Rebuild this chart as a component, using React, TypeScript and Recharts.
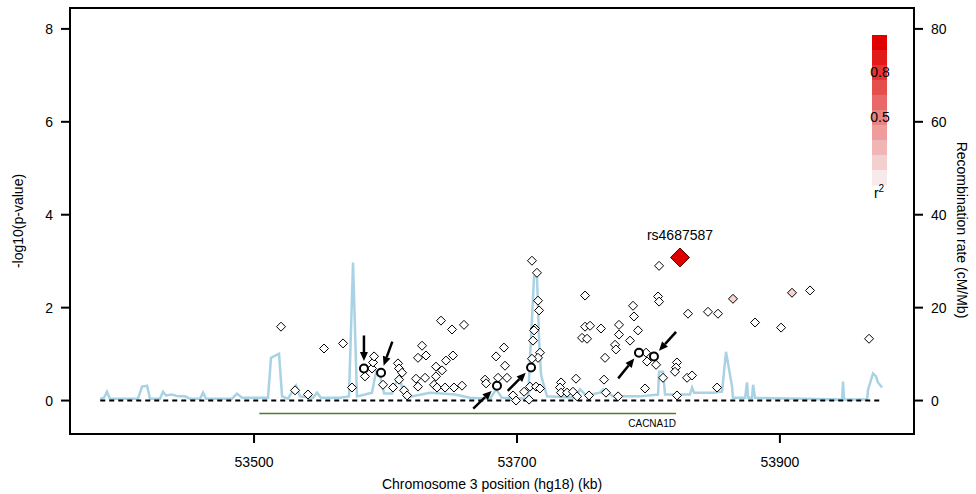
import {
  ComposedChart,
  Line,
  Scatter,
  XAxis,
  YAxis,
  ReferenceLine,
  ReferenceArea,
} from 'recharts';

// SNPs: [position (kb), -log10(p)]
const SNPS: [number, number][] = [
  [53520.5, 1.59], [53531.2, 0.22], [53541.0, 0.13], [53553.2, 1.12], [53567.7, 1.23],
  [53574.5, 0.28], [53584.4, 0.52], [53589.7, 0.69], [53590.5, 0.82], [53591.3, 0.95],
  [53598.1, 0.34], [53605.7, 0.28], [53609.5, 0.80], [53610.3, 0.69], [53612.6, 0.60],
  [53610.3, 0.45], [53614.1, 0.22], [53616.4, 0.11], [53627.8, 1.18], [53624.7, 0.92],
  [53630.8, 0.97], [53623.2, 0.47], [53630.1, 0.49], [53624.7, 0.30], [53642.2, 1.72],
  [53650.6, 1.53], [53659.7, 1.63], [53638.4, 0.73], [53646.0, 0.86], [53651.3, 0.97],
  [53643.0, 0.65], [53638.4, 0.52], [53636.9, 0.34], [53639.2, 0.28], [53645.3, 0.28],
  [53652.1, 0.28], [53658.2, 0.32], [53675.7, 0.45], [53676.5, 0.37], [53684.1, 0.95],
  [53690.1, 1.14], [53690.9, 0.75], [53692.4, 0.49], [53685.6, 0.49], [53697.0, 0.11],
  [53699.3, 0.0], [53705.4, 0.19], [53709.2, 0.02], [53709.9, 0.30], [53711.4, 3.01],
  [53715.2, 2.75], [53716.0, 2.15], [53716.8, 1.94], [53713.7, 1.55], [53713.0, 1.51],
  [53712.2, 1.29], [53717.5, 1.03], [53716.0, 0.92], [53711.4, 0.90], [53714.5, 0.30],
  [53717.5, 0.26], [53733.5, 0.39], [53732.7, 0.28], [53733.5, 0.17], [53738.1, 0.17],
  [53742.6, 0.19], [53744.9, 0.47], [53745.7, 0.09], [53751.8, 2.26], [53751.8, 1.59],
  [53755.6, 1.61], [53749.5, 1.35], [53753.3, 1.33], [53763.9, 1.55], [53767.0, 0.92],
  [53766.2, 0.45], [53767.7, 0.17], [53754.8, 0.11], [53777.6, 1.63], [53777.6, 1.42],
  [53774.6, 1.20], [53775.3, 1.10], [53776.9, 0.09], [53786.0, 1.29], [53789.0, 1.81],
  [53788.3, 2.04], [53792.1, 1.51], [53798.2, 1.03], [53798.9, 0.84], [53805.8, 0.77],
  [53808.1, 2.90], [53807.3, 2.24], [53808.1, 2.13], [53811.1, 0.49], [53797.4, 0.26],
  [53821.7, 0.82], [53821.0, 0.71], [53820.2, 0.62], [53821.7, 0.11], [53829.4, 0.49],
  [53833.2, 0.54], [53830.1, 1.87], [53845.3, 1.91], [53852.9, 1.87], [53881.1, 1.68],
  [53900.9, 1.57], [53922.9, 2.37], [53967.8, 1.33], [53852.2, 0.28],
];

// SNPs in weak LD with the lead SNP (pink)
const LD_SNPS: [number, number][] = [
  [53864.3, 2.19],
  [53909.2, 2.32],
];

// highlighted SNPs (circles with arrows)
const MARKED: [number, number][] = [
  [53583.6, 0.69], [53596.6, 0.60], [53684.8, 0.32],
  [53710.7, 0.71], [53792.8, 1.03], [53804.2, 0.95],
];
// direction the arrow comes from, degrees (screen coords)
const ARROW_FROM = [-90, -70, 136, 135, 129, -48];

const LEAD_SNP = { name: 'rs4687587', pos: 53824, p: 3.08 };

// recombination rate: [position (kb), cM/Mb]
const RECOMB: [number, number][] = [
  [53383, 0.4], [53385.9, 0.6], [53388.1, 1.9], [53390.4, 0.4], [53411.7, 0.4],
  [53414.8, 3.0], [53418.6, 3.2], [53420.9, 0.4], [53428.5, 0.4], [53430.7, 1.9],
  [53433.0, 1.1], [53437.6, 1.3], [53442.2, 0.9], [53447.5, 0.9], [53451.3, 0.4],
  [53458.9, 0.4], [53461.2, 1.7], [53463.5, 0.4], [53483.2, 0.4], [53487.0, 1.5],
  [53490.8, 0.6], [53510.6, 0.6], [53512.9, 9.2], [53519.0, 10.1], [53521.3, 0.9],
  [53525.8, 0.4], [53531.9, 3.2], [53535.0, 0.9], [53544.9, 0.6], [53547.9, 1.7],
  [53550.9, 0.6], [53565.4, 0.6], [53572.2, 0.9], [53575.3, 29.7], [53578.3, 0.9],
  [53584.4, 1.3], [53589.7, 1.7], [53592.8, 6.2], [53595.8, 5.4], [53598.9, 1.5],
  [53604.9, 1.5], [53608.7, 4.5], [53611.8, 3.7], [53614.8, 0.6], [53633.9, 1.7],
  [53652.9, 1.3], [53664.3, 0.6], [53679.5, 0.4], [53684.1, 2.4], [53688.6, 0.6],
  [53708.4, 0.4], [53713.0, 26.7], [53715.2, 26.7], [53716.8, 13.1], [53718.3, 5.6],
  [53719.8, 3.9], [53722.9, 0.9], [53744.2, 0.6], [53748.0, 2.4], [53752.5, 1.1],
  [53763.2, 1.7], [53765.5, 2.4], [53773.1, 0.9], [53793.6, 0.9], [53807.3, 1.3],
  [53808.1, 6.2], [53811.1, 6.2], [53812.6, 1.3], [53831.6, 1.3], [53833.2, 2.8],
  [53834.7, 1.7], [53849.1, 1.7], [53856.0, 1.9], [53859.0, 10.5], [53863.6, 3.0],
  [53864.3, 0.6], [53873.5, 0.6], [53875.0, 3.9], [53875.8, 0.6], [53878.8, 0.6],
  [53879.6, 3.4], [53881.1, 0.6], [53947.3, 0.2], [53948.0, 4.1], [53948.8, 0.2],
  [53966.3, 0.2], [53967.1, 2.4], [53970.8, 5.8], [53973.1, 5.2], [53974.6, 3.9],
  [53977.7, 2.8],
];

const GENE = { name: 'CACNA1D', start: 53504, end: 53821, y: -0.28 };
const SNP_RANGE = [53383, 53976];

const X_TICKS = [53500, 53700, 53900];
const Y_TICKS = [0, 2, 4, 6, 8];
const R_TICKS = [0, 20, 40, 60, 80];

const R2_COLORS = [
  '#e00000', '#e21a1a', '#e43434', '#e64e4e', '#e96868',
  '#eb8282', '#ee9c9c', '#f0b6b6', '#f3d0d0', '#f8eaea',
];
const R2_LABELS = ['0.8', '0.5'];

const FONT = '"Liberation Sans", Arial, Helvetica, sans-serif';

const snpData = SNPS.map(([pos, p]) => ({ pos, p }));
const ldData = LD_SNPS.map(([pos, p]) => ({ pos, p }));
const markedData = MARKED.map(([pos, p], i) => ({ pos, p, from: ARROW_FROM[i] }));
const recombData = RECOMB.map(([pos, rate]) => ({ pos, rate }));

const Diamond = (props: any) => {
  const { cx, cy, fill } = props;
  const r = 4.5;
  return (
    <path
      d={`M${cx},${cy - r}L${cx + r},${cy}L${cx},${cy + r}L${cx - r},${cy}Z`}
      fill={fill}
      stroke="#000"
      strokeWidth={1}
    />
  );
};

const MarkedPoint = (props: any) => {
  const { cx, cy, payload } = props;
  const a = (payload.from * Math.PI) / 180;
  const ux = Math.cos(a);
  const uy = Math.sin(a);
  const tipX = cx + ux * 7.5;
  const tipY = cy + uy * 7.5;
  const baseX = tipX + ux * 9;
  const baseY = tipY + uy * 9;
  const px = -uy * 4;
  const py = ux * 4;
  return (
    <g>
      <line
        x1={cx + ux * 33}
        y1={cy + uy * 33}
        x2={baseX}
        y2={baseY}
        stroke="#000"
        strokeWidth={2.5}
      />
      <path
        d={`M${tipX},${tipY}L${baseX + px},${baseY + py}L${baseX - px},${baseY - py}Z`}
        fill="#000"
      />
      <circle cx={cx} cy={cy} r={4} fill="#fff" stroke="#000" strokeWidth={2} />
    </g>
  );
};

const LeadPoint = (props: any) => {
  const { cx, cy } = props;
  const r = 9.5;
  return (
    <g>
      <path
        d={`M${cx},${cy - r}L${cx + r},${cy}L${cx},${cy + r}L${cx - r},${cy}Z`}
        fill="#dd0000"
        stroke="#5a0000"
        strokeWidth={1}
      />
      <text x={cx} y={cy - 17} textAnchor="middle" fontSize={14} fill="#000">
        {LEAD_SNP.name}
      </text>
    </g>
  );
};

const GeneLabel = (props: any) => {
  const { cx, cy } = props;
  return (
    <text x={cx} y={cy + 13} textAnchor="end" fontSize={10} fill="#000">
      {GENE.name}
    </text>
  );
};

export default function App() {
  const tick = { fill: '#000', fontSize: 14, fontFamily: FONT };
  const axisLine = { stroke: '#000', strokeWidth: 2 };
  const tickLine = { stroke: '#000', strokeWidth: 2 };

  return (
    <div
      style={{
        position: 'absolute',
        left: 0,
        top: 0,
        width: 976,
        height: 494,
        background: '#fff',
        fontFamily: FONT,
      }}
    >
      <ComposedChart
        width={976}
        height={494}
        margin={{ top: 8, right: 0, bottom: 0, left: 0 }}
      >
        <XAxis
          type="number"
          dataKey="pos"
          domain={[53360, 54002]}
          allowDataOverflow
          ticks={X_TICKS}
          height={60}
          tick={tick}
          tickSize={9}
          tickMargin={14}
          axisLine={axisLine}
          tickLine={tickLine}
        />
        <YAxis
          yAxisId="left"
          dataKey="p"
          domain={[-0.72, 8.45]}
          allowDataOverflow
          ticks={Y_TICKS}
          width={70}
          tick={tick}
          tickSize={9}
          tickMargin={8}
          axisLine={axisLine}
          tickLine={tickLine}
        />
        <YAxis
          yAxisId="right"
          orientation="right"
          domain={[-7.2, 84.5]}
          allowDataOverflow
          ticks={R_TICKS}
          width={62}
          tick={tick}
          tickSize={9}
          tickMargin={8}
          axisLine={axisLine}
          tickLine={tickLine}
        />
        <ReferenceArea
          yAxisId="left"
          x1={53360}
          x2={54002}
          y1={-0.72}
          y2={8.45}
          fill="none"
          stroke="#000"
          strokeWidth={2}
        />
        <Line
          yAxisId="right"
          data={recombData}
          dataKey="rate"
          type="linear"
          stroke="#a9d2e4"
          strokeWidth={2.5}
          dot={false}
          isAnimationActive={false}
        />
        <ReferenceLine
          yAxisId="left"
          segment={[
            { x: SNP_RANGE[0], y: 0 },
            { x: SNP_RANGE[1], y: 0 },
          ]}
          stroke="#000"
          strokeWidth={2}
          strokeDasharray="5 4"
        />
        <ReferenceLine
          yAxisId="left"
          segment={[
            { x: GENE.start, y: GENE.y },
            { x: GENE.end, y: GENE.y },
          ]}
          stroke="#4e7d2e"
          strokeWidth={1.5}
        />
        <Scatter
          yAxisId="left"
          data={[{ pos: GENE.end, p: GENE.y }]}
          dataKey="p"
          shape={GeneLabel}
          isAnimationActive={false}
        />
        <Scatter
          yAxisId="left"
          data={snpData}
          dataKey="p"
          fill="#fff"
          shape={Diamond}
          isAnimationActive={false}
        />
        <Scatter
          yAxisId="left"
          data={ldData}
          dataKey="p"
          fill="#f6d4d4"
          shape={Diamond}
          isAnimationActive={false}
        />
        <Scatter
          yAxisId="left"
          data={markedData}
          dataKey="p"
          shape={MarkedPoint}
          isAnimationActive={false}
        />
        <Scatter
          yAxisId="left"
          data={[{ pos: LEAD_SNP.pos, p: LEAD_SNP.p }]}
          dataKey="p"
          shape={LeadPoint}
          isAnimationActive={false}
        />
      </ComposedChart>

      {/* axis titles and r2 legend */}
      <svg
        width={976}
        height={494}
        style={{ position: 'absolute', left: 0, top: 0, pointerEvents: 'none' }}
        fontFamily={FONT}
      >
        <text
          x={18}
          y={221}
          transform="rotate(-90 18 221)"
          textAnchor="middle"
          dominantBaseline="central"
          fontSize={14}
        >
          -log10(p-value)
        </text>
        <text
          x={962}
          y={230}
          transform="rotate(90 962 230)"
          textAnchor="middle"
          dominantBaseline="central"
          fontSize={14}
        >
          Recombination rate (cM/Mb)
        </text>
        <text x={492} y={489} textAnchor="middle" fontSize={14}>
          Chromosome 3 position (hg18) (kb)
        </text>
        {R2_COLORS.map((c, i) => (
          <rect key={c} x={872} y={35 + i * 15} width={15} height={15.5} fill={c} />
        ))}
        <text x={880} y={72} textAnchor="middle" dominantBaseline="central" fontSize={14}>
          {R2_LABELS[0]}
        </text>
        <text x={880} y={117} textAnchor="middle" dominantBaseline="central" fontSize={14}>
          {R2_LABELS[1]}
        </text>
        <text x={879} y={198} textAnchor="middle" fontSize={14}>
          r<tspan fontSize={10} dy={-6}>2</tspan>
        </text>
      </svg>
    </div>
  );
}
